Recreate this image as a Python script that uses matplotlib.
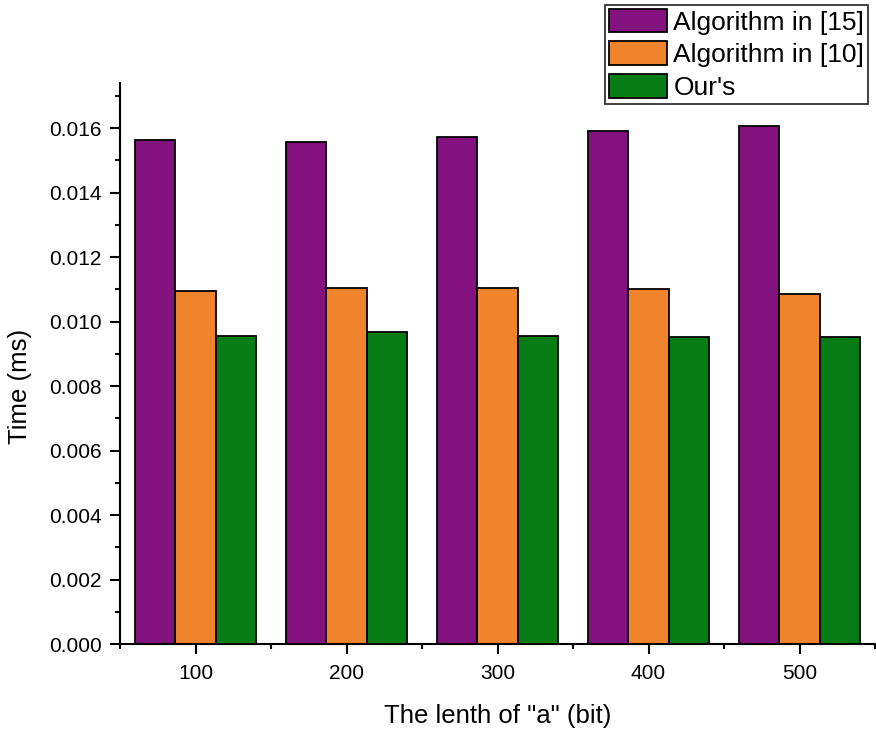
import matplotlib
matplotlib.use("Agg")
import matplotlib.pyplot as plt
import numpy as np
from matplotlib.ticker import MultipleLocator, FixedLocator

plt.rcParams['font.family'] = ['Liberation Sans', 'DejaVu Sans']

categories = ["100", "200", "300", "400", "500"]
series_names = ["Algorithm in [15]", "Algorithm in [10]", "Our's"]
alg15 = [0.01563, 0.01557, 0.01572, 0.01592, 0.01606]
alg10 = [0.01095, 0.01103, 0.01103, 0.01101, 0.01087]
ours = [0.00955, 0.00967, 0.00955, 0.00953, 0.00953]
colors = ["#83127f", "#f0842c", "#067d14"]

fig = plt.figure(figsize=(8.76, 7.29), dpi=100)
ax = fig.add_axes([120/876, 1-644/729, 755/876, (644-83)/729])

x = np.arange(len(categories))
w = 0.8/3
for i, (vals, name, c) in enumerate(zip([alg15, alg10, ours], series_names, colors)):
    ax.bar(x + (i-1)*w, vals, width=w, color=c, edgecolor='black', linewidth=1.3, label=name)

ax.set_xlim(-0.5, 4.5)
ax.set_ylim(0, 0.0174)
ax.set_xticks(x)
ax.set_xticklabels(categories)
ax.xaxis.set_minor_locator(FixedLocator(np.arange(-0.5, 5.0, 1.0)))
ax.yaxis.set_major_locator(MultipleLocator(0.002))
ax.yaxis.set_minor_locator(MultipleLocator(0.001))
ax.yaxis.set_major_formatter(matplotlib.ticker.FormatStrFormatter('%.3f'))
for s in ['top', 'right']:
    ax.spines[s].set_visible(False)
for s in ['left', 'bottom']:
    ax.spines[s].set_linewidth(1.5)
ax.tick_params(axis='both', which='major', direction='out', length=7.2, width=1.5, labelsize=15)
ax.tick_params(axis='y', which='major', pad=6)
ax.tick_params(axis='x', which='major', pad=7)
ax.tick_params(axis='both', which='minor', direction='out', length=3.6, width=1.5)
ax.set_ylabel("Time (ms)", fontsize=18.5, labelpad=12)
ax.yaxis.label.set_y(0.46)
ax.set_xlabel('The lenth of "a" (bit)', fontsize=18.5, labelpad=15)

leg = fig.legend(loc='upper right', bbox_to_anchor=(868/876, 1-5/729), fontsize=19,
                 frameon=True, fancybox=False, edgecolor='black', handlelength=2.2,
                 handleheight=1.0, labelspacing=0.26, borderpad=0.14, handletextpad=0.25,
                 borderaxespad=0)
leg.get_frame().set_linewidth(1.3)

fig.savefig("out.png", dpi=100)
